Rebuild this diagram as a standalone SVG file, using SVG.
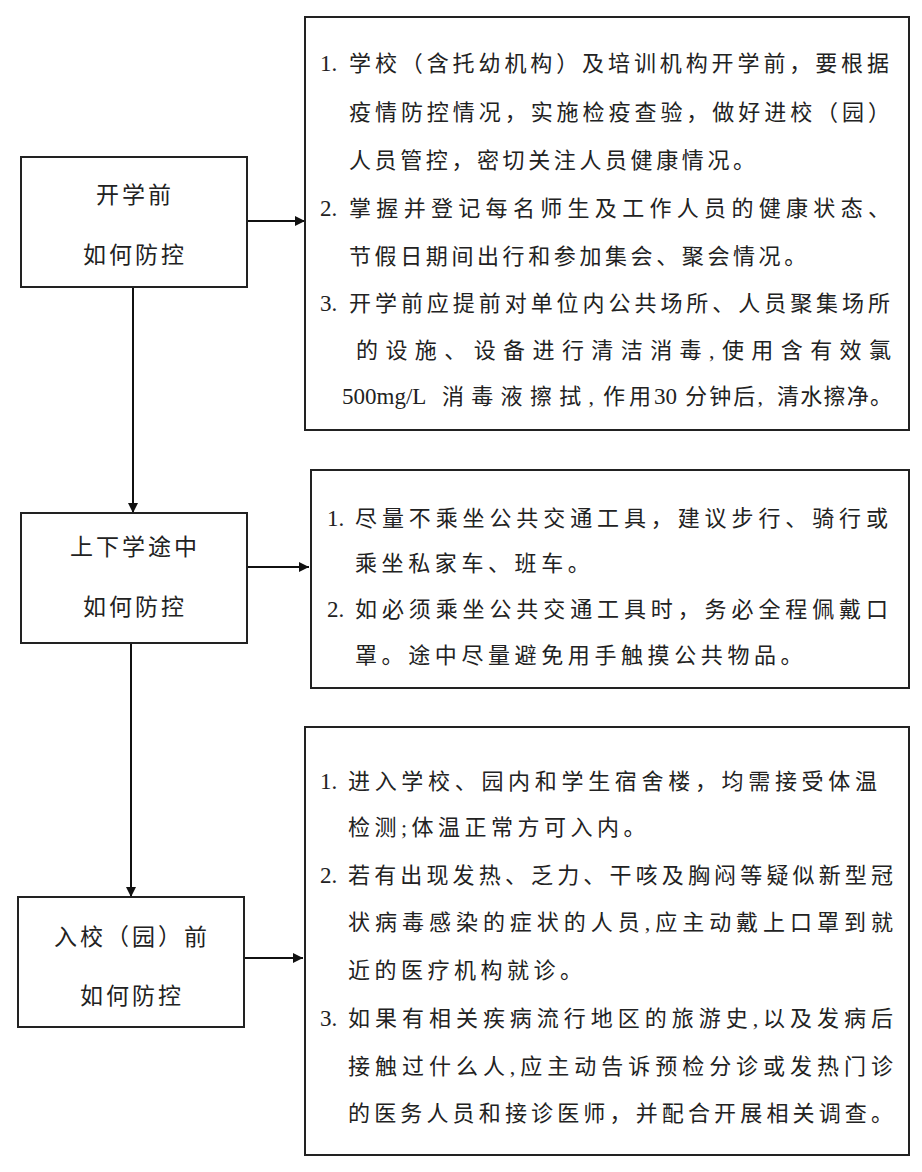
<svg xmlns="http://www.w3.org/2000/svg" width="922" height="1172" viewBox="0 0 922 1172">
<defs>
<marker id="ah" viewBox="0 0 10 10" refX="10" refY="5" markerWidth="10" markerHeight="10" markerUnits="userSpaceOnUse" orient="auto">
<path d="M0,0 L10,5 L0,10 z" fill="#111"/>
</marker>
<style>
.box{fill:#fff;stroke:#222;stroke-width:2}
.con{stroke:#111;stroke-width:2;fill:none}
.t{font-family:"Liberation Serif","Noto Sans CJK SC",serif;font-size:22px;fill:#222;dominant-baseline:central}
.n{font-family:"Liberation Serif","Noto Sans CJK SC",serif;font-size:23px;fill:#222;dominant-baseline:central}
.lt{font-family:"Liberation Serif","Noto Sans CJK SC",serif;font-size:23px;fill:#222;dominant-baseline:central;text-anchor:middle;letter-spacing:3px}
.sa{letter-spacing:3.6px}
.sb{letter-spacing:4.6px}
.sc{letter-spacing:4.5px}
</style>
</defs>
<rect width="922" height="1172" fill="#fff"/>
<g id="connectors">
<path class="con" d="M247,221 H305" marker-end="url(#ah)"/>
<path class="con" d="M133,287 V513" marker-end="url(#ah)"/>
<path class="con" d="M247,567 H309" marker-end="url(#ah)"/>
<path class="con" d="M131,643 V897" marker-end="url(#ah)"/>
<path class="con" d="M244,958 H303" marker-end="url(#ah)"/>
</g>
<g id="node-kaixueqian">
<rect class="box" x="21" y="157" width="226" height="130"/>
<text class="lt" x="135" y="195">开学前</text>
<text class="lt" x="135" y="255">如何防控</text>
</g>
<g id="node-shangxiaxue">
<rect class="box" x="21" y="513" width="226" height="130"/>
<text class="lt" x="135" y="547">上下学途中</text>
<text class="lt" x="135" y="607">如何防控</text>
</g>
<g id="node-ruxiao">
<rect class="box" x="18" y="897" width="226" height="130"/>
<text class="lt" x="132" y="937">入校（园）前</text>
<text class="lt" x="132" y="996">如何防控</text>
</g>
<g id="node-detail-1">
<rect class="box" x="305" y="17" width="604" height="413"/>
<text class="n" x="320" y="63">1.</text>
<text class="t" x="349" y="63" textLength="540" lengthAdjust="spacing">学校（含托幼机构）及培训机构开学前，要根据</text>
<text class="t" x="349" y="112" textLength="541" lengthAdjust="spacing">疫情防控情况，实施检疫查验，做好进校（园）</text>
<text class="t sa" x="349" y="160">人员管控，密切关注人员健康情况。</text>
<text class="n" x="320" y="208">2.</text>
<text class="t" x="349" y="208" textLength="541" lengthAdjust="spacing">掌握并登记每名师生及工作人员的健康状态、</text>
<text class="t sa" x="349" y="256">节假日期间出行和参加集会、聚会情况。</text>
<text class="n" x="320" y="303">3.</text>
<text class="t" x="349" y="303" textLength="541" lengthAdjust="spacing">开学前应提前对单位内公共场所、人员聚集场所</text>
<text class="t" x="356" y="350" textLength="535" lengthAdjust="spacing">的设施、设备进行清洁消毒,使用含有效氯</text>
<text class="n" x="342" y="396">500mg/L</text>
<text class="t" x="442" y="396" textLength="152" lengthAdjust="spacing">消毒液擦拭,</text>
<text class="t" x="603" y="396" textLength="48" lengthAdjust="spacing">作用</text>
<text class="n" x="654" y="396">30</text>
<text class="t" x="685" y="396" textLength="78" lengthAdjust="spacing">分钟后,</text>
<text class="t" x="777" y="396" textLength="115" lengthAdjust="spacing">清水擦净。</text>
</g>
<g id="node-detail-2">
<rect class="box" x="311" y="470" width="598" height="218"/>
<text class="n" x="327" y="518">1.</text>
<text class="t" x="355" y="518" textLength="533" lengthAdjust="spacing">尽量不乘坐公共交通工具，建议步行、骑行或</text>
<text class="t sb" x="355" y="563">乘坐私家车、班车。</text>
<text class="n" x="327" y="609">2.</text>
<text class="t" x="355" y="609" textLength="533" lengthAdjust="spacing">如必须乘坐公共交通工具时，务必全程佩戴口</text>
<text class="t sb" x="355" y="655">罩。途中尽量避免用手触摸公共物品。</text>
</g>
<g id="node-detail-3">
<rect class="box" x="305" y="727" width="604" height="428"/>
<text class="n" x="320" y="781">1.</text>
<text class="t" x="348" y="781" textLength="529" lengthAdjust="spacing">进入学校、园内和学生宿舍楼，均需接受体温</text>
<text class="t sc" x="348" y="827">检测;体温正常方可入内。</text>
<text class="n" x="320" y="875">2.</text>
<text class="t" x="348" y="875" textLength="545" lengthAdjust="spacing">若有出现发热、乏力、干咳及胸闷等疑似新型冠</text>
<text class="t" x="348" y="922" textLength="545" lengthAdjust="spacing">状病毒感染的症状的人员,应主动戴上口罩到就</text>
<text class="t sc" x="348" y="970">近的医疗机构就诊。</text>
<text class="n" x="320" y="1018">3.</text>
<text class="t" x="348" y="1018" textLength="545" lengthAdjust="spacing">如果有相关疾病流行地区的旅游史,以及发病后</text>
<text class="t" x="348" y="1066" textLength="545" lengthAdjust="spacing">接触过什么人,应主动告诉预检分诊或发热门诊</text>
<text class="t" x="348" y="1113" textLength="545" lengthAdjust="spacing">的医务人员和接诊医师，并配合开展相关调查。</text>
</g>
</svg>
